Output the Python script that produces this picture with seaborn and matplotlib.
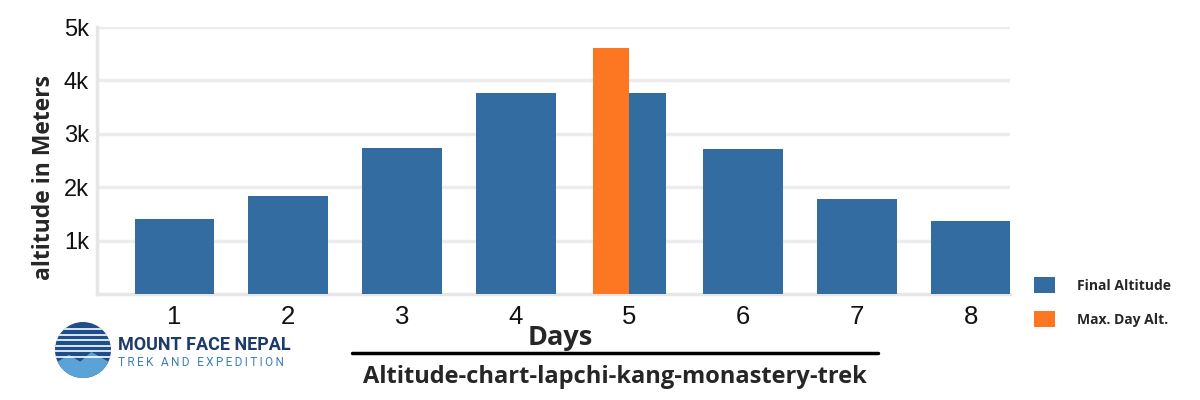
import matplotlib
matplotlib.use("Agg")
import matplotlib.pyplot as plt
import seaborn as sns
import pandas as pd
from matplotlib.patches import Patch, Circle
from matplotlib.lines import Line2D

days = ["1", "2", "3", "4", "5", "6", "7", "8"]
final_altitude = [1410, 1840, 2730, 3760, 3760, 2710, 1770, 1370]
max_day_day = "5"
max_day_alt = 4600
yticks = [1000, 2000, 3000, 4000, 5000]
ytick_labels = ["1k", "2k", "3k", "4k", "5k"]

BLUE = "#336ca0"
ORANGE = "#fd7622"

sns.set_theme(style="white")
plt.rcParams["font.family"] = ["Liberation Sans", "DejaVu Sans"]

fig = plt.figure(figsize=(12, 4), dpi=100)
ax = fig.add_axes([0.081, 0.265, 0.761, 0.6675])

df_single = pd.DataFrame({"day": [d for d in days if d != max_day_day],
                          "alt": [v for d, v in zip(days, final_altitude) if d != max_day_day]})
sns.barplot(data=df_single, x="day", y="alt", order=days, color=BLUE,
            width=0.7, saturation=1, ax=ax, zorder=3, linewidth=0)

df_split = pd.DataFrame({
    "day": [max_day_day, max_day_day],
    "alt": [max_day_alt, final_altitude[days.index(max_day_day)]],
    "series": ["Max. Day Alt.", "Final Altitude"],
})
sns.barplot(data=df_split, x="day", y="alt", hue="series", order=days,
            hue_order=["Max. Day Alt.", "Final Altitude"],
            palette={"Max. Day Alt.": ORANGE, "Final Altitude": BLUE},
            dodge=True, width=0.64, saturation=1, ax=ax, legend=False, zorder=3,
            linewidth=0)

ax.set_xlim(-0.68, 7.35)
ax.set_ylim(0, 5000)
ax.set_yticks(yticks)
ax.set_yticklabels(ytick_labels)
ax.yaxis.grid(True, color="#ececec", linewidth=2.5, zorder=0)
ax.set_axisbelow(True)
for s in ["top", "right"]:
    ax.spines[s].set_visible(False)
for s in ["left", "bottom"]:
    ax.spines[s].set_color("#e6e6e6")
    ax.spines[s].set_linewidth(2.5)
ax.tick_params(axis="y", labelsize=17, length=0, pad=6, colors="#111111")
ax.tick_params(axis="x", labelsize=18.5, length=0, pad=8, colors="#111111")
ax.set_xlabel("")
ax.set_ylabel("altitude in Meters", fontsize=16.5, fontweight="bold",
              family=["Open Sans", "DejaVu Sans"])
ax.yaxis.set_label_coords(-0.045, 0.435)

fig.text(0.467, 0.155, "Days", ha="center", va="center", fontsize=19.5,
         fontweight="bold", family=["Open Sans", "DejaVu Sans"])
fig.add_artist(Line2D([352 / 1200, 878 / 1200], [1 - 353 / 400] * 2,
                      color="black", linewidth=2.5, transform=fig.transFigure))
fig.text(0.5125, 0.058, "Altitude-chart-lapchi-kang-monastery-trek", ha="center",
         va="center", fontsize=17, fontweight="bold", family=["Open Sans", "DejaVu Sans"])

handles = [Patch(facecolor=BLUE, edgecolor="none", label="Final Altitude"),
           Patch(facecolor=ORANGE, edgecolor="none", label="Max. Day Alt.")]
leg = fig.legend(handles=handles, loc="center left", bbox_to_anchor=(0.851, 0.245),
                 frameon=False, handlelength=1.5, handleheight=1.4,
                 labelspacing=1.3, handletextpad=1.6,
                 prop={"size": 10, "weight": "bold", "family": "Open Sans"})

# logo approximation
logo_ax = fig.add_axes([55 / 1200, 1 - 378 / 400, 56 / 1200, 56 / 400])
logo_ax.set_xlim(-1, 1)
logo_ax.set_ylim(-1, 1)
logo_ax.set_aspect("equal")
logo_ax.axis("off")
circ = Circle((0, 0), 1, facecolor="#1e4f8c", edgecolor="none")
logo_ax.add_patch(circ)
for yy in [0.75, 0.55, 0.35, 0.15, -0.05, -0.25]:
    logo_ax.plot([-1, 1], [yy, yy], color="white", linewidth=1.2, clip_path=circ)
logo_ax.fill([-1, -0.5, -0.1, 0.3, 1, 1, -1], [-0.5, -0.2, -0.45, -0.1, -0.5, -1, -1],
             color="#5ba3d6", clip_path=circ)
fig.text(118 / 1200, 1 - 345 / 400, "MOUNT FACE NEPAL", ha="left", va="center",
         fontsize=13, fontweight="bold", color="#1c3a6b",
         family=["Roboto", "DejaVu Sans"])
fig.text(118 / 1200, 1 - 362 / 400, "\u2009".join("TREK AND EXPEDITION"), ha="left",
         va="center", fontsize=8.5, color="#3d7fb8", family=["Roboto", "DejaVu Sans"])

fig.savefig("out.png", dpi=100, facecolor="white")
